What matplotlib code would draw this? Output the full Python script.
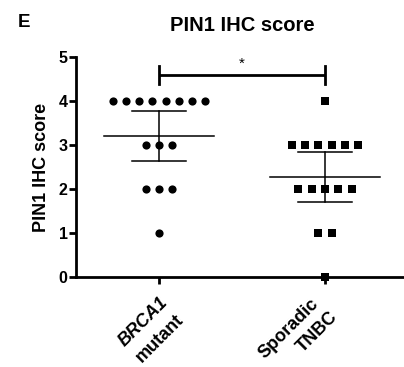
import numpy as np
import matplotlib
matplotlib.use("Agg")
import matplotlib.pyplot as plt
from matplotlib.transforms import offset_copy

plt.rcParams['font.family'] = ['Liberation Sans', 'DejaVu Sans']
plt.rcParams['font.weight'] = 'bold'

categories = ["BRCA1 mutant", "Sporadic TNBC"]
brca1_scores = [4, 4, 4, 4, 4, 4, 4, 4, 3, 3, 3, 2, 2, 2, 1]
tnbc_scores = [4, 3, 3, 3, 3, 3, 3, 2, 2, 2, 2, 2, 1, 1, 0]
yticks = [0, 1, 2, 3, 4, 5]
title = "PIN1 IHC score"
ylabel = "PIN1 IHC score"
panel = "E"
sig_text = "*"

W, H = 404, 367
fig = plt.figure(figsize=(W/100, H/100), dpi=100)
ax = fig.add_axes([76/W, 1-277/H, 1-76/W, (277-57)/H])

def swarm_x(vals, center, step=0.08):
    vals = np.asarray(vals)
    xs = np.zeros(len(vals), float)
    for v in np.unique(vals):
        idx = np.where(vals == v)[0]
        n = len(idx)
        offs = (np.arange(n) - (n-1)/2) * step
        xs[idx] = center + offs
    return xs

groups = [brca1_scores, tnbc_scores]
markers = ['o', 's']
msizes = [5.9, 6.0]
for i, (g, m, ms) in enumerate(zip(groups, markers, msizes)):
    xs = swarm_x(g, i)
    ax.plot(xs, g, linestyle='none', marker=m, markersize=ms, color='black',
            markeredgewidth=0, clip_on=False, zorder=3)
    arr = np.asarray(g, float)
    mean = arr.mean()
    sem = arr.std(ddof=1) / np.sqrt(len(arr))
    ci = 2.145 * sem
    ax.plot([i-0.33, i+0.33], [mean, mean], color='black', lw=1.1, zorder=4)
    ax.plot([i, i], [mean-ci, mean+ci], color='black', lw=1.1, zorder=4)
    for yv in (mean-ci, mean+ci):
        ax.plot([i-0.165, i+0.165], [yv, yv], color='black', lw=1.1, zorder=4)

# significance bracket
yb = 4.59
ax.plot([0, 1], [yb, yb], color='black', lw=2.0, clip_on=False, solid_capstyle='butt')
for xv in (0, 1):
    ax.plot([xv, xv], [yb-0.2, yb+0.2], color='black', lw=2.0, clip_on=False)
ax.text(0.5, yb+0.1, sig_text, ha='center', va='bottom', fontsize=11, fontweight='normal')

ax.set_xlim(-0.5, 1.476)
ax.set_ylim(0, 5)
ax.set_yticks(yticks)
ax.set_yticklabels([str(t) for t in yticks], fontsize=11.5, fontweight='bold')
ax.set_xticks([0, 1])
ax.set_xticklabels(["", ""])
for s in ['top', 'right']:
    ax.spines[s].set_visible(False)
for s in ['left', 'bottom']:
    ax.spines[s].set_linewidth(2.0)
ax.tick_params(axis='both', width=2.0, length=5, pad=1)

ax.set_ylabel(ylabel, fontsize=13, fontweight='bold')
ax.yaxis.set_label_coords(-(76-50)/(W-76), 0.5)

# x labels (two lines each, first line of first category italic)
lab_lines = [[("BRCA1", 'italic'), ("mutant", 'normal')],
             [("Sporadic", 'normal'), ("TNBC", 'normal')]]
centers_px = [[(-16, 45), (1, 62)], [(-36, 52), (-7.5, 55)]]
for i, lines in enumerate(lab_lines):
    for (txt, style), (dx, dy) in zip(lines, centers_px[i]):
        tr = offset_copy(ax.get_xaxis_transform(), fig=fig, x=dx*0.72, y=-dy*0.72, units='points')
        ax.text(i, 0, txt, transform=tr, rotation=45, rotation_mode='anchor',
                ha='center', va='center', fontsize=13, fontweight='bold', style=style)

fig.text(242/W, 1-30.7/H, title, ha='center', va='baseline', fontsize=14.5, fontweight='bold')
fig.text(18/W, 1-26.7/H, panel, ha='left', va='baseline', fontsize=13.5, fontweight='bold')

fig.savefig("out.png", dpi=100)
